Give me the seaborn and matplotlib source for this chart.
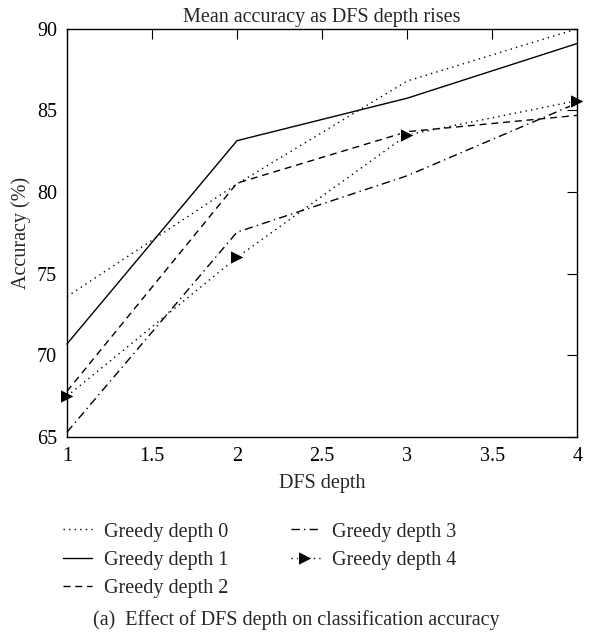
import pandas as pd
import matplotlib
matplotlib.use("Agg")
import matplotlib.pyplot as plt
import seaborn as sns

dfs_depth = [1, 2, 3, 4]
greedy_0 = [73.6, 80.5, 86.8, 90.0]
greedy_1 = [70.7, 83.15, 85.75, 89.1]
greedy_2 = [67.8, 80.55, 83.7, 84.7]
greedy_3 = [65.3, 77.55, 81.0, 85.45]
greedy_4 = [67.5, 76.0, 83.5, 85.6]
series_names = ["Greedy depth 0", "Greedy depth 1", "Greedy depth 2",
                "Greedy depth 3", "Greedy depth 4"]
x_ticks = [1, 1.5, 2, 2.5, 3, 3.5, 4]
y_ticks = [65, 70, 75, 80, 85, 90]

sns.set_theme(style="white")
plt.rcParams["font.family"] = ["Liberation Serif", "DejaVu Serif"]

data = pd.DataFrame({"DFS depth": dfs_depth * 5,
                     "Accuracy": greedy_0 + greedy_1 + greedy_2 + greedy_3 + greedy_4,
                     "Series": [n for n in series_names for _ in dfs_depth]})

styles = {
    "Greedy depth 0": dict(linestyle=(0, (1, 3)), marker=None),
    "Greedy depth 1": dict(linestyle="-", marker=None),
    "Greedy depth 2": dict(linestyle=(0, (5, 3.5)), marker=None),
    "Greedy depth 3": dict(linestyle=(0, (6, 3, 1, 3)), marker=None),
    "Greedy depth 4": dict(linestyle=(0, (1, 3)), marker=">", markersize=10),
}

fig = plt.figure(figsize=(5.92, 6.4), dpi=100)
ax = fig.add_axes([0.113, 0.317, 0.862, 0.638])

for name in series_names:
    sub = data[data["Series"] == name]
    sns.lineplot(data=sub, x="DFS depth", y="Accuracy", ax=ax, color="black",
                 linewidth=1.0, label=name, legend=False, clip_on=False,
                 **styles[name])

ax.set_xlim(1, 4)
ax.set_ylim(65, 90)
ax.set_xticks(x_ticks)
ax.set_xticklabels(["1", "1.5", "2", "2.5", "3", "3.5", "4"])
ax.set_yticks(y_ticks)
ax.tick_params(direction="in", length=7, width=0.8, top=True, right=True,
               labelsize=14.5, colors="black", pad=7)
for s in ax.spines.values():
    s.set_color("black")
    s.set_linewidth(1.0)
ax.set_xlabel("DFS depth", fontsize=14.5, labelpad=6)
ax.set_ylabel("Accuracy (%)", fontsize=14.5, labelpad=4)
ax.set_title("Mean accuracy as DFS depth rises", fontsize=14.5, pad=5)

fig.legend(ncol=2, frameon=False, fontsize=14.5, loc="upper left",
           bbox_to_anchor=(0.075, 0.212), handlelength=1.45,
           columnspacing=3.1, labelspacing=0.45, handletextpad=0.6)

fig.text(0.5, 0.031, "(a)  Effect of DFS depth on classification accuracy",
         ha="center", va="center", fontsize=14.5)

fig.savefig("out.png", dpi=100)
